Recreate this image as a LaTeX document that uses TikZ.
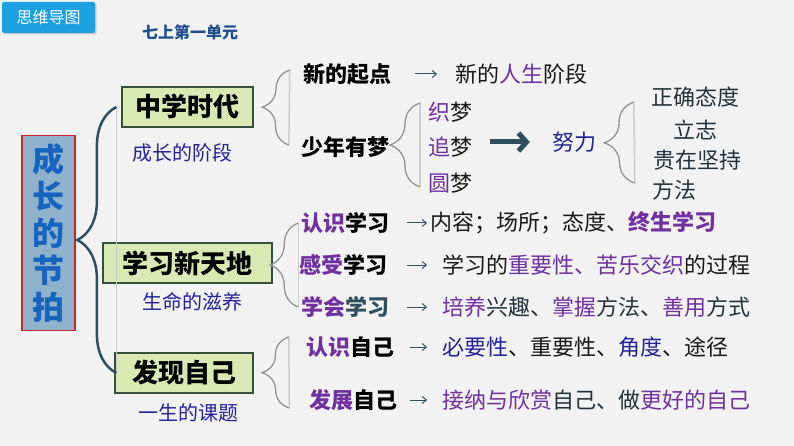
\documentclass[tikz,border=0pt]{standalone}
\usepackage{fontspec}
\setmainfont{Noto Sans CJK SC}
\usetikzlibrary{arrows.meta,calc,decorations.pathreplacing,shadows}

\definecolor{bgc}{RGB}{242,242,242}
\definecolor{btnblue}{RGB}{27,161,226}
\definecolor{titleblue}{RGB}{31,78,140}
\definecolor{rootfill}{RGB}{143,178,204}
\definecolor{rootred}{RGB}{200,40,45}
\definecolor{roottext}{RGB}{21,101,192}
\definecolor{boxgreen}{RGB}{216,233,180}
\definecolor{boxedge}{RGB}{50,80,60}
\definecolor{slate}{RGB}{47,79,95}
\definecolor{pur}{RGB}{112,48,160}
\definecolor{nav}{RGB}{35,35,150}
\definecolor{dk}{RGB}{35,50,58}

\newcommand\purp[1]{\textcolor{pur}{#1}}
\newcommand\navy[1]{\textcolor{nav}{#1}}
\newcommand\fsz[1]{\fontsize{#1}{#1}\selectfont}

\begin{document}
\begin{tikzpicture}[x=1pt,y=-1pt,
  txt/.style={inner sep=0pt,text=black!90,font=\fsz{22}},
  lbl/.style={inner sep=0pt,font=\fsz{22}\bfseries},
  topic/.style={draw=boxedge,line width=1.2pt,fill=boxgreen,minimum height=40pt,inner sep=0pt,font=\fsz{26}\bfseries},
  sub/.style={inner sep=0pt,text=nav,font=\fsz{20}},
  gbrace/.style={decorate,decoration={brace,amplitude=#1},draw=gray!85,line width=1.3pt},
  gline/.style={draw=gray!40,line width=1.5pt},
  sarrow/.style={-{Straight Barb[length=4pt,width=7pt]},draw=slate,line width=1pt},
  bigarrow/.style={-{Straight Barb[length=8pt,width=18pt]},draw=slate,line width=5pt}]
		\useasboundingbox (0,0) rectangle (794,446);
		\fill[bgc] (0,0) rectangle (794,446);
		
		\node[fill=btnblue,text=white,minimum width=93pt,minimum height=31pt,rounded corners=2pt,
		  drop shadow={shadow xshift=1.5pt,shadow yshift=-1.5pt,opacity=.35},font=\fsz{16}] (btn) at (48.5,17.5) {思维导图};
		\node[text=titleblue,inner sep=0pt,font=\fsz{16}\bfseries] (unit) at (190,32) {七上第一单元};
		
		\node[draw=rootred,line width=1.2pt,fill=rootfill,minimum width=53pt,minimum height=195pt,inner sep=0pt,
		  text=roottext,align=center,font=\fontsize{32}{37}\selectfont\bfseries] (root) at (48.5,233) {成\\长\\的\\节\\拍};
		
		\node[topic,minimum width=131pt] (zx) at (187.5,107) {中学时代};
		\node[topic,minimum width=169pt] (xx) at (187.5,263) {学习新天地};
		\node[topic,minimum width=138pt] (fx) at (184,373) {发现自己};
		\node[sub] (zxs) at (182,153) {成长的阶段};
		\node[sub] (xxs) at (192,302) {生命的滋养};
		\node[sub] (fxs) at (188,413) {一生的课题};
		
		\draw[gline] ($(zx.west)+(-5,0)$) -- ($(fx.west)+(2,0)$);
		\draw[decorate,decoration={brace,amplitude=39pt},draw=slate,line width=2.5pt] ($(fx.west)+(2,0)$) -- ($(zx.west)+(-5,0)$);
		
		% 中学时代
		\node[lbl] (l11) at (347,74) {新的起点};
		\node[txt,anchor=west] (d11) at (455,74) {新的\purp{人生}阶段};
		\node[lbl] (l12) at (345,147) {少年有梦};
		\node[txt,anchor=west] (z1) at (428,112) {\purp{织}梦};
		\node[txt,anchor=west] (z2) at (428,147) {\purp{追}梦};
		\node[txt,anchor=west] (z3) at (428,183) {\purp{圆}梦};
		\node[txt,text=nav] (nl) at (574,142) {努力};
		\node[txt,text=dk] (t1) at (695,97) {正确态度};
		\node[txt,text=dk] (t2) at (695,130) {立志};
		\node[txt,text=dk] (t3) at (697,160) {贵在坚持};
		\node[txt,text=dk] (t4) at (674,190) {方法};
		
		\draw[gline] ($(l11.west)+(-13,-4)$) -- ($(l12.west)+(-12,-2)$);
		\draw[gbrace=27pt] ($(l12.west)+(-12,-2)$) -- ($(l11.west)+(-13,-4)$);
		\draw[gline] ($(z1.west)+(-8,-9)$) -- ($(z3.west)+(-8,4)$);
		\draw[gbrace=30pt] ($(z3.west)+(-8,4)$) -- ($(z1.west)+(-8,-9)$);
		\draw[gline] ($(t1.west)+(-17,5)$) -- ($(t4.west)+(-17,-7)$);
		\draw[gbrace=30pt] ($(t4.west)+(-17,-7)$) -- ($(t1.west)+(-17,5)$);
		
		\draw[sarrow,shorten <=24pt,shorten >=18pt] (l11.east) -- (d11.west);
		\draw[bigarrow,shorten <=18pt,shorten >=22pt] (z2.east |- nl.west) -- (nl.west);
		
		% 学习新天地
		\node[lbl] (r1) at (345.5,223) {\purp{认识}学习};
		\node[lbl] (r2) at (343.5,265) {\purp{感受}学习};
		\node[lbl] (r3) at (345.5,307) {\purp{学会}\textcolor{slate}{学习}};
		\node[txt,anchor=west] (d1) at (430,223) {内容；场所；态度、\textbf{\purp{终生学习}}};
		\node[txt,anchor=west] (d2) at (442,265) {学习的\purp{重要性、苦乐交织}的过程};
		\node[txt,anchor=west,text=dk] (d3) at (442,307) {\purp{培养}兴趣、\purp{掌握}方法、\purp{善用}方式};
		
		\draw[gline] ($(r1.west)+(-3,0)$) -- ($(r3.west)+(-3,0)$);
		\draw[gbrace=28pt] ($(r3.west)+(-3,0)$) -- ($(r1.west)+(-3,0)$);
		\draw[sarrow,shorten <=17.5pt,shorten >=3pt] (r1.east) -- (d1.west);
		\draw[sarrow,shorten <=19.5pt,shorten >=15pt] (r2.east) -- (d2.west);
		\draw[sarrow,shorten <=17.5pt,shorten >=15pt] (r3.east) -- (d3.west);
		
		% 发现自己
		\node[lbl] (r4) at (350,347) {\purp{认识}自己};
		\node[lbl] (r5) at (353.5,400) {\purp{发展}自己};
		\node[txt,anchor=west] (d4) at (442,347) {\navy{必要性}、重要性、\navy{角度}、途径};
		\node[txt,anchor=west,text=dk] (d5) at (442,400) {\purp{接纳与欣赏}自己、做\purp{更好的自己}};
		
		\draw[gline] ($(r4.west)+(-17,-10)$) -- ($(r5.west)+(-20,8)$);
		\draw[gbrace=27pt] ($(r5.west)+(-20,8)$) -- ($(r4.west)+(-17,-10)$);
		\draw[sarrow,shorten <=16pt,shorten >=15pt] (r4.east) -- (d4.west);
		\draw[sarrow,shorten <=12.5pt,shorten >=15pt] (r5.east) -- (d5.west);
\end{tikzpicture}
\end{document}
